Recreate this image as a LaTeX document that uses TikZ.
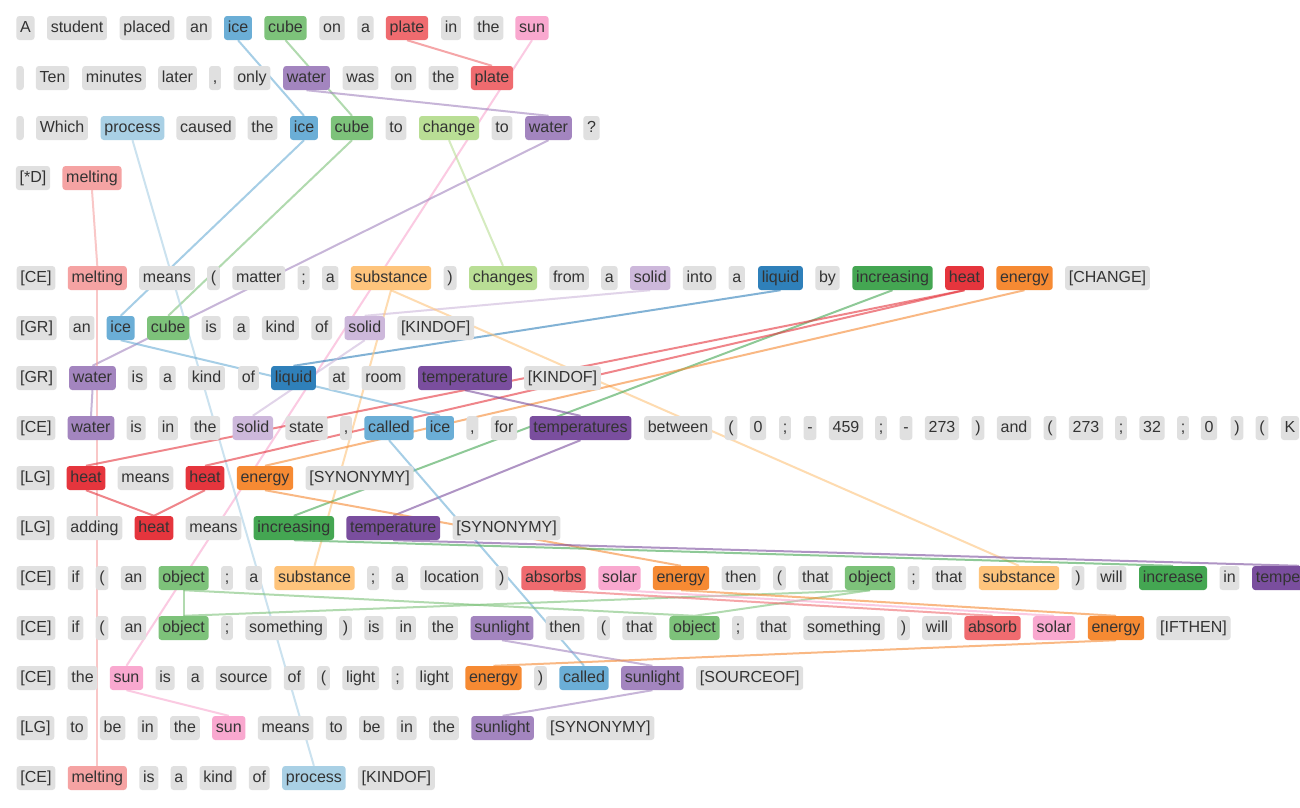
\documentclass[tikz,border=0pt]{standalone}
\usepackage{fontspec}
\newfontfamily\tokfont{Liberation Sans}
\usetikzlibrary{backgrounds}

\definecolor{tokgray}{HTML}{E0E0E0}
\definecolor{tokink}{HTML}{333333}
\definecolor{cIce}{HTML}{6BAED6}
\definecolor{cCube}{HTML}{7DC27A}
\definecolor{cPlate}{HTML}{EF6B6F}
\definecolor{cSun}{HTML}{F9A8CF}
\definecolor{cWater}{HTML}{A385BF}
\definecolor{cProcess}{HTML}{A9D0E5}
\definecolor{cChange}{HTML}{B9DE95}
\definecolor{cMelting}{HTML}{F5A3A3}
\definecolor{cSubst}{HTML}{FEC47C}
\definecolor{cSolid}{HTML}{CDB8DB}
\definecolor{cLiquid}{HTML}{2F80BA}
\definecolor{cIncr}{HTML}{44A652}
\definecolor{cHeat}{HTML}{E5353D}
\definecolor{cEnergy}{HTML}{F68A33}
\definecolor{cTemp}{HTML}{7A4E9E}

\tikzset{
	tok/.style={rounded corners=3pt, inner xsep=3.75pt, inner ysep=0pt, minimum height=24pt,
		text height=11.5pt, text depth=3.5pt, font=\tokfont\fontsize{16}{19}\selectfont,
		text=tokink, fill=tokgray},
	hl/.style={tok, fill=#1},
	link/.style={line width=2pt, draw=#1, draw opacity=0.6},
}

\begin{document}
\begin{tikzpicture}[x=1pt, y=-1pt]
	
	\useasboundingbox (0,0) rectangle (1300,807);
	\clip (0,0) rectangle (1300,807);
	
	% question
	\node[tok] (r1A) at (25.5,28) {A};
	\node[tok] (r1student) at (77,28) {student};
	\node[tok] (r1placed) at (147,28) {placed};
	\node[tok] (r1an) at (199,28) {an};
	\node[hl=cIce] (r1ice) at (238,28) {ice};
	\node[hl=cCube] (r1cube) at (285.5,28) {cube};
	\node[tok] (r1on) at (332,28) {on};
	\node[tok] (r1a) at (365.5,28) {a};
	\node[hl=cPlate] (r1plate) at (407,28) {plate};
	\node[tok] (r1in) at (451,28) {in};
	\node[tok] (r1the) at (488.5,28) {the};
	\node[hl=cSun] (r1sun) at (532,28) {sun};
	
	\node[tok] (r2blank) at (20,78) {};
	\node[tok] (r2Ten) at (52.5,78) {Ten};
	\node[tok] (r2minutes) at (114,78) {minutes};
	\node[tok] (r2later) at (177.5,78) {later};
	\node[tok] (r2comma) at (215,78) {,};
	\node[tok] (r2only) at (252,78) {only};
	\node[hl=cWater] (r2water) at (306.5,78) {water};
	\node[tok] (r2was) at (360.5,78) {was};
	\node[tok] (r2on) at (403.5,78) {on};
	\node[tok] (r2the) at (443.5,78) {the};
	\node[hl=cPlate] (r2plate) at (492,78) {plate};
	
	\node[tok] (r3blank) at (20,128) {};
	\node[tok] (r3Which) at (62,128) {Which};
	\node[hl=cProcess] (r3process) at (132.5,128) {process};
	\node[tok] (r3caused) at (206,128) {caused};
	\node[tok] (r3the) at (262.5,128) {the};
	\node[hl=cIce] (r3ice) at (304,128) {ice};
	\node[hl=cCube] (r3cube) at (352,128) {cube};
	\node[tok] (r3to) at (396,128) {to};
	\node[hl=cChange] (r3change) at (449,128) {change};
	\node[tok] (r3tob) at (502,128) {to};
	\node[hl=cWater] (r3water) at (548.5,128) {water};
	\node[tok] (r3qm) at (591.5,128) {?};
	
	\node[tok] (r4tag) at (33,178) {[*D]};
	\node[hl=cMelting] (r4melting) at (92,178) {melting};
	
	% facts
	\node[tok] (r5tag) at (36,278) {[CE]};
	\node[hl=cMelting] (r5melting) at (97.3,278) {melting};
	\node[tok] (r5means) at (167,278) {means};
	\node[tok] (r5lp) at (213.5,278) {(};
	\node[tok] (r5matter) at (258.8,278) {matter};
	\node[tok] (r5sc) at (303.6,278) {;};
	\node[tok] (r5a) at (330.2,278) {a};
	\node[hl=cSubst] (r5substance) at (391,278) {substance};
	\node[tok] (r5rp) at (450.1,278) {)};
	\node[hl=cChange] (r5changes) at (503,278) {changes};
	\node[tok] (r5from) at (569,278) {from};
	\node[tok] (r5ab) at (609.4,278) {a};
	\node[hl=cSolid] (r5solid) at (650.2,278) {solid};
	\node[tok] (r5into) at (699.5,278) {into};
	\node[tok] (r5ac) at (736.7,278) {a};
	\node[hl=cLiquid] (r5liquid) at (780.5,278) {liquid};
	\node[tok] (r5by) at (827.5,278) {by};
	\node[hl=cIncr] (r5increasing) at (892.5,278) {increasing};
	\node[hl=cHeat] (r5heat) at (964.5,278) {heat};
	\node[hl=cEnergy] (r5energy) at (1024.5,278) {energy};
	\node[tok] (r5rel) at (1107.5,278) {[CHANGE]};
	
	\node[tok] (r6tag) at (36.5,328) {[GR]};
	\node[tok] (r6an) at (81.8,328) {an};
	\node[hl=cIce] (r6ice) at (120.7,328) {ice};
	\node[hl=cCube] (r6cube) at (168.2,328) {cube};
	\node[tok] (r6is) at (211.2,328) {is};
	\node[tok] (r6a) at (241.3,328) {a};
	\node[tok] (r6kind) at (280.4,328) {kind};
	\node[tok] (r6of) at (321.7,328) {of};
	\node[hl=cSolid] (r6solid) at (364.7,328) {solid};
	\node[tok] (r6rel) at (435.7,328) {[KINDOF]};
	
	\node[tok] (r7tag) at (36.5,378) {[GR]};
	\node[hl=cWater] (r7water) at (92.5,378) {water};
	\node[tok] (r7is) at (137.5,378) {is};
	\node[tok] (r7a) at (167.5,378) {a};
	\node[tok] (r7kind) at (206.5,378) {kind};
	\node[tok] (r7of) at (248.5,378) {of};
	\node[hl=cLiquid] (r7liquid) at (293.5,378) {liquid};
	\node[tok] (r7at) at (339,378) {at};
	\node[tok] (r7room) at (383.5,378) {room};
	\node[hl=cTemp] (r7temperature) at (465,378) {temperature};
	\node[tok] (r7rel) at (562.5,378) {[KINDOF]};
	
	\node[tok] (r8tag) at (36,428) {[CE]};
	\node[hl=cWater] (r8water) at (91,428) {water};
	\node[tok] (r8is) at (136.2,428) {is};
	\node[tok] (r8in) at (168,428) {in};
	\node[tok] (r8the) at (205.3,428) {the};
	\node[hl=cSolid] (r8solid) at (252.8,428) {solid};
	\node[tok] (r8state) at (306.5,428) {state};
	\node[tok] (r8comma) at (346,428) {,};
	\node[hl=cIce] (r8called) at (389,428) {called};
	\node[hl=cIce] (r8ice) at (440,428) {ice};
	\node[tok] (r8commab) at (472.4,428) {,};
	\node[tok] (r8for) at (504,428) {for};
	\node[hl=cTemp] (r8temperatures) at (580.5,428) {temperatures};
	\node[tok] (r8between) at (678,428) {between};
	\node[tok] (r8lp) at (731,428) {(};
	\node[tok] (r8zero) at (758,428) {0};
	\node[tok] (r8sc) at (785,428) {;};
	\node[tok] (r8minus) at (810,428) {-};
	\node[tok] (r8n459) at (846,428) {459};
	\node[tok] (r8scb) at (881,428) {;};
	\node[tok] (r8minusb) at (906,428) {-};
	\node[tok] (r8n273) at (942,428) {273};
	\node[tok] (r8rp) at (978,428) {)};
	\node[tok] (r8and) at (1014,428) {and};
	\node[tok] (r8lpb) at (1050,428) {(};
	\node[tok] (r8n273b) at (1086,428) {273};
	\node[tok] (r8scc) at (1121,428) {;};
	\node[tok] (r8n32) at (1152,428) {32};
	\node[tok] (r8scd) at (1183,428) {;};
	\node[tok] (r8zerob) at (1209,428) {0};
	\node[tok] (r8rpb) at (1237,428) {)};
	\node[tok] (r8lpc) at (1262,428) {(};
	\node[tok] (r8K) at (1290,428) {K};
	
	\node[tok] (r9tag) at (35.4,478) {[LG]};
	\node[hl=cHeat] (r9heat) at (86,478) {heat};
	\node[tok] (r9means) at (145.5,478) {means};
	\node[hl=cHeat] (r9heatb) at (205,478) {heat};
	\node[hl=cEnergy] (r9energy) at (265,478) {energy};
	\node[tok] (r9rel) at (359.6,478) {[SYNONYMY]};
	
	\node[tok] (r10tag) at (35.4,528) {[LG]};
	\node[tok] (r10adding) at (94.5,528) {adding};
	\node[hl=cHeat] (r10heat) at (154,528) {heat};
	\node[tok] (r10means) at (213.5,528) {means};
	\node[hl=cIncr] (r10increasing) at (293.8,528) {increasing};
	\node[hl=cTemp] (r10temperature) at (393.2,528) {temperature};
	\node[tok] (r10rel) at (506.5,528) {[SYNONYMY]};
	
	\node[tok] (r11tag) at (36,578) {[CE]};
	\node[tok] (r11if) at (75.5,578) {if};
	\node[tok] (r11lp) at (102,578) {(};
	\node[tok] (r11an) at (133.5,578) {an};
	\node[hl=cCube] (r11object) at (183.6,578) {object};
	\node[tok] (r11sc) at (227,578) {;};
	\node[tok] (r11a) at (253.7,578) {a};
	\node[hl=cSubst] (r11substance) at (314.5,578) {substance};
	\node[tok] (r11scb) at (373.2,578) {;};
	\node[tok] (r11ab) at (399.8,578) {a};
	\node[tok] (r11location) at (451.7,578) {location};
	\node[tok] (r11rp) at (501.8,578) {)};
	\node[hl=cPlate] (r11absorbs) at (553.5,578) {absorbs};
	\node[hl=cSun] (r11solar) at (619.5,578) {solar};
	\node[hl=cEnergy] (r11energy) at (681,578) {energy};
	\node[tok] (r11then) at (741,578) {then};
	\node[tok] (r11lpb) at (779.5,578) {(};
	\node[tok] (r11that) at (815.5,578) {that};
	\node[hl=cCube] (r11objectb) at (870,578) {object};
	\node[tok] (r11scc) at (913.5,578) {;};
	\node[tok] (r11thatb) at (949,578) {that};
	\node[hl=cSubst] (r11substanceb) at (1019,578) {substance};
	\node[tok] (r11rpb) at (1078,578) {)};
	\node[tok] (r11will) at (1111.5,578) {will};
	\node[hl=cIncr] (r11increase) at (1173,578) {increase};
	\node[tok] (r11in) at (1229.5,578) {in};
	\node[hl=cTemp] (r11temperature) at (1299,578) {temperature};
	
	\node[tok] (r12tag) at (36,628) {[CE]};
	\node[tok] (r12if) at (75.5,628) {if};
	\node[tok] (r12lp) at (102,628) {(};
	\node[tok] (r12an) at (133.5,628) {an};
	\node[hl=cCube] (r12object) at (183.6,628) {object};
	\node[tok] (r12sc) at (227,628) {;};
	\node[tok] (r12something) at (286.1,628) {something};
	\node[tok] (r12rp) at (345.5,628) {)};
	\node[tok] (r12is) at (373.8,628) {is};
	\node[tok] (r12in) at (405.8,628) {in};
	\node[tok] (r12the) at (443,628) {the};
	\node[hl=cWater] (r12sunlight) at (502,628) {sunlight};
	\node[tok] (r12then) at (565,628) {then};
	\node[tok] (r12lpb) at (603.5,628) {(};
	\node[tok] (r12that) at (639.5,628) {that};
	\node[hl=cCube] (r12objectb) at (694.5,628) {object};
	\node[tok] (r12scb) at (738,628) {;};
	\node[tok] (r12thatb) at (773.5,628) {that};
	\node[tok] (r12somethingb) at (844,628) {something};
	\node[tok] (r12rpb) at (903.5,628) {)};
	\node[tok] (r12will) at (937,628) {will};
	\node[hl=cPlate] (r12absorb) at (992.5,628) {absorb};
	\node[hl=cSun] (r12solar) at (1054,628) {solar};
	\node[hl=cEnergy] (r12energy) at (1116,628) {energy};
	\node[tok] (r12rel) at (1193.5,628) {[IFTHEN]};
	
	\node[tok] (r13tag) at (36,678) {[CE]};
	\node[tok] (r13the) at (82.6,678) {the};
	\node[hl=cSun] (r13sun) at (126.5,678) {sun};
	\node[tok] (r13is) at (165.1,678) {is};
	\node[tok] (r13a) at (195.3,678) {a};
	\node[tok] (r13source) at (243.7,678) {source};
	\node[tok] (r13of) at (294.3,678) {of};
	\node[tok] (r13lp) at (323.5,678) {(};
	\node[tok] (r13light) at (360.7,678) {light};
	\node[tok] (r13sc) at (397.6,678) {;};
	\node[tok] (r13lightb) at (434.4,678) {light};
	\node[hl=cEnergy] (r13energy) at (493.5,678) {energy};
	\node[tok] (r13rp) at (540.5,678) {)};
	\node[hl=cIce] (r13called) at (584,678) {called};
	\node[hl=cWater] (r13sunlight) at (652.4,678) {sunlight};
	\node[tok] (r13rel) at (749.7,678) {[SOURCEOF]};
	
	\node[tok] (r14tag) at (35.4,728) {[LG]};
	\node[tok] (r14to) at (77.1,728) {to};
	\node[tok] (r14be) at (112.6,728) {be};
	\node[tok] (r14in) at (147.6,728) {in};
	\node[tok] (r14the) at (184.9,728) {the};
	\node[hl=cSun] (r14sun) at (228.8,728) {sun};
	\node[tok] (r14means) at (285.6,728) {means};
	\node[tok] (r14tob) at (336.2,728) {to};
	\node[tok] (r14beb) at (371.7,728) {be};
	\node[tok] (r14inb) at (406.7,728) {in};
	\node[tok] (r14theb) at (444,728) {the};
	\node[hl=cWater] (r14sunlight) at (502.6,728) {sunlight};
	\node[tok] (r14rel) at (600.4,728) {[SYNONYMY]};
	
	\node[tok] (r15tag) at (36,778) {[CE]};
	\node[hl=cMelting] (r15melting) at (97.3,778) {melting};
	\node[tok] (r15is) at (148.8,778) {is};
	\node[tok] (r15a) at (178.9,778) {a};
	\node[tok] (r15kind) at (218,778) {kind};
	\node[tok] (r15of) at (259.3,778) {of};
	\node[hl=cProcess] (r15process) at (313.9,778) {process};
	\node[tok] (r15rel) at (396.4,778) {[KINDOF]};
	
	% alignments, under the boxes
	\begin{pgfonlayer}{background}
	\fill[white] (0,0) rectangle (1300,807);
	
	\path[link=cIce] (r1ice.south) edge (r3ice.north);
	\path[link=cCube] (r1cube.south) edge (r3cube.north);
	\path[link=cPlate] (r1plate.south) edge (r2plate.north);
	\path[link=cSun] (r1sun.south) edge (r13sun.north);
	\path[link=cWater] (r2water.south) edge (r3water.north);
	
	\path[link=cIce] (r3ice.south) edge (r6ice.north);
	\path[link=cCube] (r3cube.south) edge (r6cube.north);
	\path[link=cWater] (r3water.south) edge (r7water.north);
	\path[link=cChange] (r3change.south) edge (r5changes.north);
	\path[link=cProcess] (r3process.south) edge (r15process.north);
	\path[link=cMelting] (r4melting.south) edge (r5melting.north);
	
	\path[link=cMelting] (r5melting.south) edge (r15melting.north);
	\path[link=cSolid] (r5solid.south) edge (r6solid.north);
	\path[link=cLiquid] (r5liquid.south) edge (r7liquid.north);
	\path[link=cSubst] (r5substance.south) edge (r11substance.north);
	\path[link=cSubst] (r5substance.south) edge (r11substanceb.north);
	\path[link=cIncr] (r5increasing.south) edge (r10increasing.north);
	\path[link=cHeat] (r5heat.south) edge (r9heat.north);
	\path[link=cHeat] (r5heat.south) edge (r9heatb.north);
	\path[link=cEnergy] (r5energy.south) edge (r9energy.north);
	
	\path[link=cIce] (r6ice.south) edge (r8ice.north);
	\path[link=cSolid] (r6solid.south) edge (r8solid.north);
	\path[link=cWater] (r7water.south) edge (r8water.north);
	\path[link=cTemp] (r7temperature.south) edge (r8temperatures.north);
	\path[link=cTemp] (r8temperatures.south) edge (r10temperature.north);
	\path[link=cIce] (r8called.south) edge (r13called.north);
	
	\path[link=cHeat] (r9heat.south) edge (r10heat.north);
	\path[link=cHeat] (r9heatb.south) edge (r10heat.north);
	\path[link=cEnergy] (r9energy.south) edge (r11energy.north);
	\path[link=cIncr] (r10increasing.south) edge (r11increase.north);
	\path[link=cTemp] (r10temperature.south) edge (r11temperature.north);
	
	\path[link=cCube] (r11object.south) edge (r12object.north);
	\path[link=cCube] (r11object.south) edge (r12objectb.north);
	\path[link=cCube] (r11objectb.south) edge (r12object.north);
	\path[link=cCube] (r11objectb.south) edge (r12objectb.north);
	\path[link=cPlate] (r11absorbs.south) edge (r12absorb.north);
	\path[link=cSun] (r11solar.south) edge (r12solar.north);
	\path[link=cEnergy] (r11energy.south) edge (r12energy.north);
	
	\path[link=cWater] (r12sunlight.south) edge (r13sunlight.north);
	\path[link=cEnergy] (r12energy.south) edge (r13energy.north);
	\path[link=cSun] (r13sun.south) edge (r14sun.north);
	\path[link=cWater] (r13sunlight.south) edge (r14sunlight.north);
	\end{pgfonlayer}
	
\end{tikzpicture}
\end{document}
